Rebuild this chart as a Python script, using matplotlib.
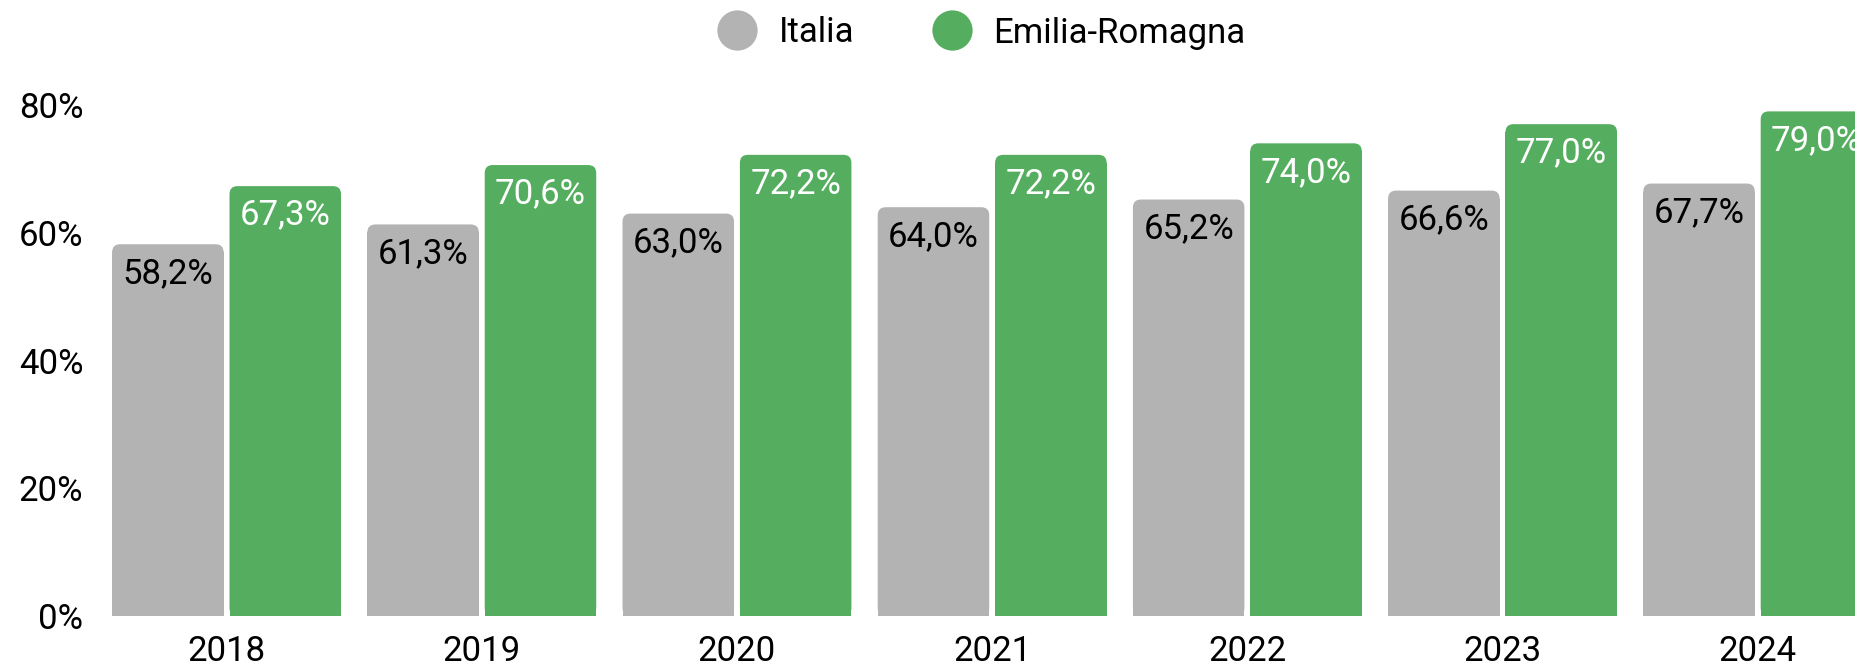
import numpy as np
import matplotlib
matplotlib.use('Agg')
import matplotlib.pyplot as plt
from matplotlib.patches import FancyBboxPatch
from matplotlib.lines import Line2D

anni = ['2018', '2019', '2020', '2021', '2022', '2023', '2024']
italia = [58.2, 61.3, 63.0, 64.0, 65.2, 66.6, 67.7]
emilia = [67.3, 70.6, 72.2, 72.2, 74.0, 77.0, 79.0]
y_ticks = [0, 20, 40, 60, 80]

grigio = '#b3b3b3'
verde = '#55ae5f'

plt.rcParams['font.family'] = ['Roboto', 'DejaVu Sans']
fs = 25

W, H = 1856, 665
fig = plt.figure(figsize=(W / 100, H / 100), dpi=100)
# asse in pixel: da x=100 a x=1856, y da 105 (80%) a 616 (0%)
ax = fig.add_axes([100 / W, (H - 616) / H, (W - 100) / W, (616 - 105) / H])
ax.set_xlim(-0.496, 6.385)
ax.set_ylim(0, 80)

x = np.arange(len(anni))
w = 0.437
off = 0.23

# raggio degli angoli (circa 8 px)
rx = 8 / 255.2
ry = 8 * 80 / 511


def barre(pos, vals, col, txtcol):
    bars = ax.bar(pos, vals, width=w, color=col, linewidth=0)
    for b, v in zip(bars, vals):
        bx, bw, bh = b.get_x(), b.get_width(), b.get_height()
        b.set_height(bh - ry)
        ax.add_patch(FancyBboxPatch((bx, 0), bw, bh,
                                    boxstyle=f'round,pad=0,rounding_size={rx}',
                                    mutation_aspect=ry / rx,
                                    facecolor=col, linewidth=0))
        ax.annotate(f'{v:.1f}'.replace('.', ',') + '%',
                    (bx + bw / 2, bh), xytext=(0, -9), textcoords='offset points',
                    ha='center', va='top', fontsize=fs, color=txtcol)


barre(x - off, italia, grigio, 'black')
barre(x + off, emilia, verde, 'white')

ax.set_xticks(x)
ax.set_xticklabels(anni)
ax.set_yticks(y_ticks)
ax.set_yticklabels([f'{t}%' for t in y_ticks])
ax.tick_params(axis='both', length=0, labelsize=fs)
ax.tick_params(axis='x', pad=14)
ax.tick_params(axis='y', pad=12)
for s in ax.spines.values():
    s.set_visible(False)

handles = [Line2D([], [], marker='o', linestyle='', markersize=29,
                  markerfacecolor=grigio, markeredgewidth=0, label='Italia'),
           Line2D([], [], marker='o', linestyle='', markersize=29,
                  markerfacecolor=verde, markeredgewidth=0, label='Emilia-Romagna')]
fig.legend(handles=handles, loc='center', bbox_to_anchor=(981 / W, 1 - 33 / H),
           ncol=2, frameon=False, fontsize=fs, handletextpad=0.6,
           columnspacing=2.2, handlelength=1.2)

fig.savefig('out.png', dpi=100)
